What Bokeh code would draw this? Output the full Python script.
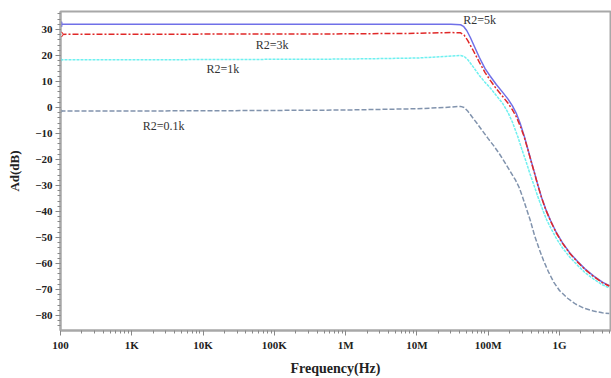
import math
from bokeh.plotting import figure
from bokeh.models import FixedTicker, Range1d, Label
from bokeh.embed import file_html
from bokeh.resources import INLINE

# ---- data ----
f_5k = [1e2, 1e3, 1e4, 1e5, 1e6, 1e7, 3e7, 4.1e7, 4.5e7, 5.0e7, 5.6e7, 6.2e7, 7.5e7,
        9e7, 1.07e8, 1.3e8, 1.6e8, 1.9e8, 2.2e8, 2.5e8, 2.8e8, 3.2e8, 3.6e8, 4.0e8,
        4.4e8, 5.0e8, 5.6e8, 6.5e8, 7.5e8, 9e8, 1.1e9, 1.4e9, 1.8e9, 2.3e9, 3.0e9,
        4e9, 5e9]
v_5k = [32.0, 32.0, 32.0, 32.0, 32.0, 32.0, 32.0, 31.8, 31.2, 29.6, 27.0, 24.3, 19.3,
        15.0, 12.0, 8.8, 5.8, 3.2, 0.5, -2.5, -6.0, -11.0, -16.0, -20.5,
        -24.5, -30.0, -34.5, -39.5, -43.5, -48.0, -52.0, -56.0, -59.3, -62.2, -64.8,
        -67.2, -68.6]

f_3k = [1e2, 1e4, 1e6, 1e7, 3e7, 4.1e7, 4.6e7, 5.2e7, 6.2e7, 7.5e7, 9e7, 1.07e8,
        1.3e8, 1.6e8, 1.9e8, 2.2e8, 2.5e8, 2.8e8, 3.2e8, 3.6e8, 4.0e8, 4.4e8, 5.0e8,
        5.6e8, 6.5e8, 7.5e8, 9e8, 1.1e9, 1.4e9, 1.8e9, 2.3e9, 3.0e9, 4e9, 5e9]
v_3k = [28.1, 28.2, 28.3, 28.5, 28.8, 28.7, 27.8, 25.6, 21.8, 17.4, 13.5, 10.4,
        7.2, 4.2, 1.6, -1.0, -3.8, -7.0, -11.3, -16.2, -20.7, -24.7, -30.2,
        -34.7, -39.7, -43.7, -48.2, -52.2, -56.2, -59.5, -62.4, -65.0, -67.4, -68.7]

f_1k = [1e2, 1e4, 1e6, 1e7, 2.5e7, 4.1e7, 4.6e7, 5.2e7, 6.2e7, 7.5e7, 9e7, 1.07e8,
        1.3e8, 1.6e8, 1.9e8, 2.2e8, 2.6e8, 3.0e8, 3.4e8, 3.8e8, 4.4e8, 5.0e8, 5.8e8,
        6.6e8, 7.6e8, 9e8, 1.1e9, 1.4e9, 1.8e9, 2.3e9, 3.0e9, 4e9, 5e9]
v_1k = [18.3, 18.4, 18.6, 19.0, 19.6, 20.0, 19.6, 18.3, 15.5, 12.3, 9.7, 7.5,
        4.6, 1.5, -2.0, -5.8, -11.2, -16.5, -20.8, -25.0, -30.0, -34.5, -39.3,
        -43.2, -46.5, -50.3, -54.0, -57.6, -60.8, -63.6, -66.0, -68.2, -69.4]

f_01k = [1e2, 1e4, 1e6, 1e7, 2.5e7, 4.1e7, 4.6e7, 5.2e7, 6e7, 7e7, 8.3e7, 1.0e8,
         1.2e8, 1.45e8, 1.7e8, 2.0e8, 2.4e8, 2.7e8, 3.0e8, 3.4e8, 3.9e8, 4.5e8,
         5.2e8, 6e8, 7e8, 8.3e8, 1.0e9, 1.3e9, 1.7e9, 2.2e9, 3e9, 4e9, 5e9]
v_01k = [-1.4, -1.3, -1.0, -0.5, 0.0, 0.4, 0.0, -1.5, -3.8, -6.2, -9.0, -12.0,
         -14.8, -18.0, -21.0, -24.2, -27.8, -30.6, -34.0, -38.5, -43.5, -49.5,
         -54.5, -59.0, -63.2, -67.2, -70.4, -73.4, -75.7, -77.2, -78.3, -79.0, -79.3]

label_text = ["R2=5k", "R2=3k", "R2=1k", "R2=0.1k"]
label_f = [7.6e7, 9.3e4, 1.9e4, 2.8e3]
label_v = [33.8, 24.2, 14.6, -7.3]

x_tick_vals = [1e2, 1e3, 1e4, 1e5, 1e6, 1e7, 1e8, 1e9]
x_tick_text = ["100", "1K", "10K", "100K", "1M", "10M", "100M", "1G"]
y_tick_vals = [-80, -70, -60, -50, -40, -30, -20, -10, 0, 10, 20, 30]

SERIF = "Liberation Serif"

p = figure(width=611, height=378, x_axis_type="log", output_backend="svg",
           toolbar_location=None,
           x_range=Range1d(100, 5.2e9), y_range=Range1d(-85.8, 36.9),
           min_border_left=60, min_border_right=1, min_border_top=11,
           min_border_bottom=48)
p.background_fill_color = "white"
p.border_fill_color = "white"
p.outline_line_color = "#a8a8a8"
p.outline_line_width = 2
p.grid.visible = False

# curves
p.line(f_01k, v_01k, line_color="#8193ad", line_width=1.5, line_dash="5 2")
p.line(f_1k, v_1k, line_color="#6ff0f0", line_width=1.5, line_dash="3 1")
p.line(f_5k, v_5k, line_color="#7070e8", line_width=1.5)
p.line(f_3k, v_3k, line_color="#e02828", line_width=1.5, line_dash="6 2 2 2")

p.scatter([f_5k[0]], [v_5k[0]], marker="triangle", angle=math.pi / 2,
          size=5, color="#7070e8")
p.scatter([f_3k[0]], [v_3k[0]], marker="circle", size=5, fill_color="white",
          line_color="#e02828")
p.scatter([f_1k[0]], [v_1k[0]], marker="circle", size=3, color="#6ff0f0")
p.scatter([f_01k[0]], [v_01k[0]], marker="circle", size=3, color="#8193ad")

for t, fx, vy in zip(label_text, label_f, label_v):
    p.add_layout(Label(x=fx, y=vy, text=t, text_font=SERIF, text_font_size="12px",
                       text_color="#333333", text_align="center",
                       text_baseline="middle"))

# x axis
xa = p.xaxis[0]
minor = [m * d for d in x_tick_vals + [1e10] for m in range(2, 10) if m * d < 5.2e9]
xa.ticker = FixedTicker(ticks=x_tick_vals, minor_ticks=minor)
xa.major_label_overrides = {v: t for v, t in zip(x_tick_vals, x_tick_text)}
xa.axis_label = "Frequency(Hz)"

# y axis
ya = p.yaxis[0]
ya.ticker = FixedTicker(ticks=y_tick_vals,
                        minor_ticks=[v for v in range(-84, 37, 2)])
ya.axis_label = "Ad(dB)"

for ax in (xa, ya):
    ax.axis_line_color = "#a8a8a8"
    ax.axis_line_width = 2
    ax.major_tick_line_color = "#888888"
    ax.minor_tick_line_color = "#888888"
    ax.major_tick_in = 0
    ax.major_tick_out = 5
    ax.minor_tick_in = 0
    ax.minor_tick_out = 3
    ax.major_label_text_font = SERIF
    ax.major_label_text_font_style = "bold"
    ax.major_label_text_font_size = "11px"
    ax.major_label_text_color = "#222222"
    ax.axis_label_text_font = SERIF
    ax.axis_label_text_font_style = "bold"
    ax.axis_label_text_color = "#222222"

xa.axis_label_text_font_size = "14px"
xa.axis_label_standoff = 7
xa.major_label_standoff = 3
ya.axis_label_text_font_size = "13px"
ya.axis_label_standoff = 10
ya.major_label_standoff = 3

open("out.html", "w").write(file_html(p, INLINE))
